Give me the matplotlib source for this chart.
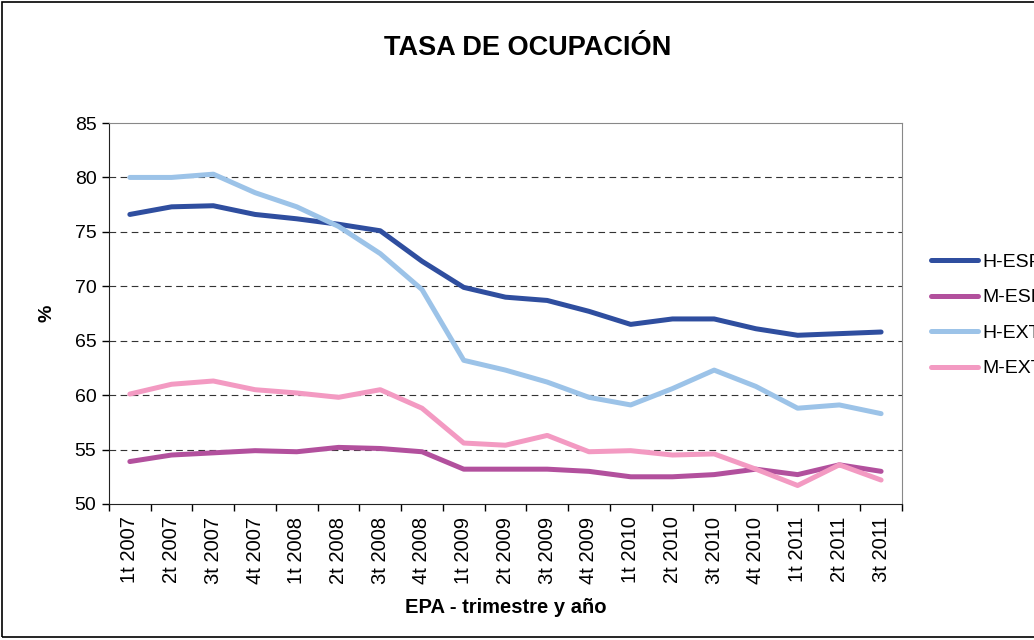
import matplotlib
matplotlib.use("Agg")
import matplotlib.pyplot as plt
from matplotlib.patches import Rectangle

plt.rcParams['font.family'] = ['Liberation Sans', 'DejaVu Sans']

# trimestres EPA
trimestres = ["1t 2007", "2t 2007", "3t 2007", "4t 2007",
              "1t 2008", "2t 2008", "3t 2008", "4t 2008",
              "1t 2009", "2t 2009", "3t 2009", "4t 2009",
              "1t 2010", "2t 2010", "3t 2010", "4t 2010",
              "1t 2011", "2t 2011", "3t 2011"]

h_esp = [76.6, 77.3, 77.4, 76.6, 76.2, 75.7, 75.1, 72.3, 69.9, 69.0,
         68.7, 67.7, 66.5, 67.0, 67.0, 66.1, 65.5, 65.65, 65.8]
m_esp = [53.9, 54.5, 54.7, 54.9, 54.8, 55.2, 55.1, 54.8, 53.2, 53.2,
         53.2, 53.0, 52.5, 52.5, 52.7, 53.2, 52.7, 53.6, 53.0]
h_ext = [80.0, 80.0, 80.3, 78.6, 77.3, 75.5, 73.0, 69.7, 63.2, 62.3,
         61.2, 59.8, 59.1, 60.6, 62.3, 60.8, 58.8, 59.1, 58.3]
m_ext = [60.1, 61.0, 61.3, 60.5, 60.2, 59.8, 60.5, 58.8, 55.6, 55.4,
         56.3, 54.8, 54.9, 54.5, 54.6, 53.2, 51.7, 53.6, 52.2]

series = [("H-ESP", h_esp, "#2f4e9f"),
          ("M-ESP", m_esp, "#b2509d"),
          ("H-EXT", h_ext, "#9cc3e8"),
          ("M-EXT", m_ext, "#f39ac2")]

fig = plt.figure(figsize=(10.34, 6.4), dpi=100)
ax = fig.add_axes([0.1054, 0.2125, 0.7669, 0.5953])

x = list(range(len(trimestres)))
for name, vals, col in series:
    ax.plot(x, vals, color=col, lw=3.6, label=name, solid_capstyle="round")

ax.set_xlim(-0.5, len(trimestres) - 0.5)
ax.set_ylim(50, 85)
ax.set_yticks(range(50, 90, 5))
for v in range(55, 85, 5):
    ax.axhline(v, color="#333333", lw=0.8, dashes=(6, 4), zorder=0)

ax.set_xticks(x)
ax.set_xticklabels(trimestres, rotation=90)
ax.set_xticks([i - 0.5 for i in range(len(trimestres) + 1)], minor=True)
ax.tick_params(axis="x", which="major", length=0, pad=9, labelsize=14.5)
ax.tick_params(axis="x", which="minor", length=5, direction="out", width=1)
ax.tick_params(axis="y", length=5, width=1, labelsize=14, pad=4)

ax.spines["top"].set_color("#888888")
ax.spines["right"].set_color("#888888")
ax.spines["left"].set_color("#222222")
ax.spines["bottom"].set_color("#222222")

ax.set_xlabel("EPA - trimestre y año", fontsize=14.5, fontweight="bold", labelpad=10)
ax.set_ylabel("%", fontsize=14, fontweight="bold", labelpad=14)

fig.text(0.51, 0.925, "TASA DE OCUPACIÓN", ha="center", va="center",
         fontsize=19.5, fontweight="bold")

ax.legend(loc="center left", bbox_to_anchor=(1.015, 0.495), frameon=False,
          fontsize=14, handlelength=2.4, handletextpad=0.2, labelspacing=0.92)

fig.patches.append(Rectangle((0.0015, 0.004), 1.2, 0.993, transform=fig.transFigure,
                             fill=False, edgecolor="black", lw=1.2))

fig.savefig("out.png", dpi=100)
